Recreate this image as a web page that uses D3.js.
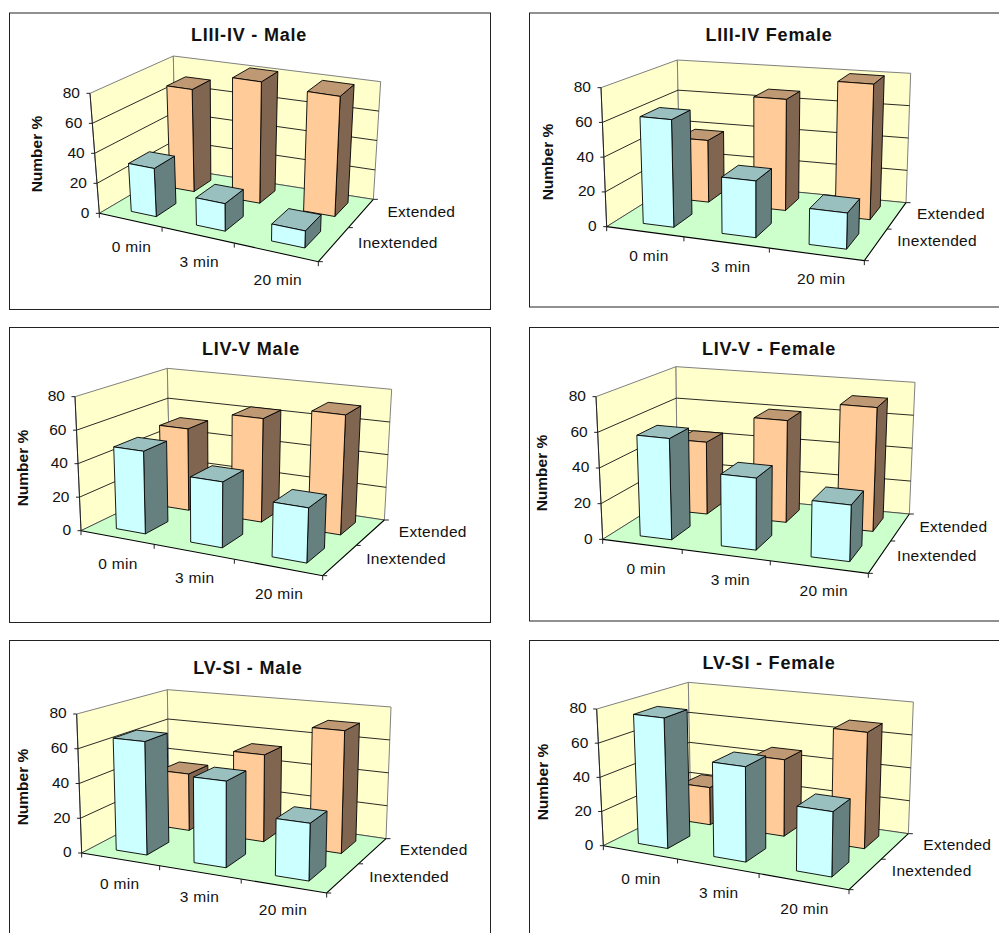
<!DOCTYPE html>
<html><head><meta charset="utf-8"><script src="https://cdnjs.cloudflare.com/ajax/libs/d3/7.8.5/d3.min.js"></script>
<style>html,body{margin:0;padding:0;background:#fff;overflow:hidden}svg{display:block}text{font-family:"Liberation Sans",Arial,sans-serif;fill:#111}</style></head><body><svg id="c" width="999" height="933"></svg>
<script>
const categories = ["0 min", "3 min", "20 min"];
const seriesNames = ["Extended", "Inextended"];
const yTicks = [0, 20, 40, 60, 80];
const titles = ["LIII-IV - Male", "LIII-IV Female", "LIV-V Male", "LIV-V - Female", "LV-SI - Male", "LV-SI - Female"];

const extendedValues = [
  [70, 82, 80],
  [38, 67, 80],
  [51, 63, 71],
  [43, 60, 72],
  [35, 52, 71],
  [23, 46, 68]
];
const inextendedValues = [
  [32, 18, 11],
  [62, 32, 20],
  [49, 38, 31],
  [57, 40, 31],
  [65, 48, 31],
  [76, 54, 36]
];

// Panel geometry, taken in 3x crop coordinates (crop origin ox,oy)
const layouts = [
  {ox:0,  oy:0,  frame:[9.5,13,481,296.5],   FLb:[298,640],FLt:[270,280],BLb:[527,505],BLt:[520,168],BRb:[1120,598],BRt:[1142,245],FRb:[955,785],title:[249,35],yTitle:[37,154],uShift:0.018,catOff:[-1.5,26.3],depthOff:[[26,-1],[24,-1]]},
  {ox:520,oy:0,  frame:[529.5,13,480,294],   FLb:[260,680],FLt:[243,263],BLb:[480,542],BLt:[472,180],BRb:[1158,608],BRt:[1172,220],FRb:[1033,782],title:[769,35],yTitle:[548,162],uShift:0.018,catOff:[0.5,23.5],depthOff:[[20,-2],[21,-4]]},
  {ox:0,  oy:320,frame:[9.5,327.5,481,295],  FLb:[243,632],FLt:[225,230],BLb:[510,503],BLt:[502,145],BRb:[1153,600],BRt:[1175,208],FRb:[968,767],title:[251,349],yTitle:[23,468],uShift:0.008,catOff:[-0.5,25.5],depthOff:[[28,-1],[26,-1]]},
  {ox:520,oy:320,frame:[529.5,327.5,480,293.5],FLb:[248,658],FLt:[228,230],BLb:[472,517],BLt:[468,140],BRb:[1168,582],BRt:[1185,187],FRb:[1045,760],title:[769,349],yTitle:[542,473],uShift:0.018,catOff:[0.5,23.5],depthOff:[[19,0],[17,-1]]},
  {ox:0,  oy:633,frame:[9.5,640.5,481,320],  FLb:[245,660],FLt:[230,243],BLb:[508,522],BLt:[502,170],BRb:[1158,617],BRt:[1173,222],FRb:[980,780],title:[248,668],yTitle:[23,787],uShift:-0.002,catOff:[0,24],depthOff:[[27,-1],[26,-1]]},
  {ox:520,oy:633,frame:[529.5,640.5,480,320],FLb:[250,638],FLt:[230,228],BLb:[512,508],BLt:[505,148],BRb:[1165,602],BRt:[1180,207],FRb:[987,770],title:[769,663],yTitle:[543,782],uShift:0.006,catOff:[0,26.5],depthOff:[[28,-1],[26,-3]]}
];

const palette = {
  Extended:   {front:"#FFCC99", side:"#806650", top:"#BF9973"},
  Inextended: {front:"#CCFFFF", side:"#668080", top:"#99BFBF"}
};

// homography from the unit square: (0,0)=a (1,0)=b (1,1)=c (0,1)=d
function homography(a,b,c,d){
  const dx1=b[0]-c[0],dx2=d[0]-c[0],sx=a[0]-b[0]+c[0]-d[0];
  const dy1=b[1]-c[1],dy2=d[1]-c[1],sy=a[1]-b[1]+c[1]-d[1];
  const den=dx1*dy2-dx2*dy1;
  const g=(sx*dy2-dx2*sy)/den,h=(dx1*sy-sx*dy1)/den;
  const A=b[0]-a[0]+g*b[0],B=d[0]-a[0]+h*d[0],D=b[1]-a[1]+g*b[1],E=d[1]-a[1]+h*d[1];
  return (u,v)=>{const w=g*u+h*v+1;return [(A*u+B*v+a[0])/w,(D*u+E*v+a[1])/w];};
}

const svg=d3.select("#c");
svg.append("rect").attr("width",999).attr("height",933).attr("fill","#fff");
const lineGen=d3.line();
const poly=(pts)=>lineGen(pts)+"Z";

const vScale=d3.scaleBand().domain(["Inextended","Extended"]).range([0,1]).paddingInner(0.5).paddingOuter(0.25);
const hScale=d3.scaleLinear().domain([0,80]).range([0,1]);

layouts.forEach((L,idx)=>{
  const uScale=d3.scaleBand().domain(categories).range([L.uShift,1+L.uShift]).paddingInner(0.6).paddingOuter(0.3);
  const g=svg.append("g");
  const c=p=>[L.ox+p[0]/3,L.oy+p[1]/3];
  const FLb=c(L.FLb),FLt=c(L.FLt),BLb=c(L.BLb),BLt=c(L.BLt),BRb=c(L.BRb),BRt=c(L.BRt),FRb=c(L.FRb);
  const sub=(a,b)=>[a[0]-b[0],a[1]-b[1]];
  const hFL=sub(FLt,FLb),hBL=sub(BLt,BLb),hBR=sub(BRt,BRb);
  const fy=hFL[1]+hBR[1]-hBL[1];
  const sL=hFL[0]/hFL[1],sR=hBR[0]/hBR[1];
  const sF=sL+(sR-sL)*(FRb[0]-FLb[0])/(BRb[0]-FLb[0]);
  const hFR=[sF*fy,fy];
  const floor=homography(FLb,FRb,BRb,BLb);
  const P=(u,v,val)=>{
    const t=hScale(val),a=floor(u,v);
    const hx=(1-u)*(1-v)*hFL[0]+u*(1-v)*hFR[0]+u*v*hBR[0]+(1-u)*v*hBL[0];
    const hy=(1-u)*(1-v)*hFL[1]+u*(1-v)*hFR[1]+u*v*hBR[1]+(1-u)*v*hBL[1];
    return [a[0]+hx*t,a[1]+hy*t];
  };

  g.append("rect").attr("x",L.frame[0]).attr("y",L.frame[1]).attr("width",L.frame[2]).attr("height",L.frame[3])
    .attr("fill","#fff").attr("stroke","#222").attr("stroke-width",1);

  g.append("path").attr("d",poly([P(0,0,0),P(0,1,0),P(0,1,80),P(0,0,80)])).attr("fill","#FFFFCC").attr("stroke","#808080");
  g.append("path").attr("d",poly([P(0,1,0),P(1,1,0),P(1,1,80),P(0,1,80)])).attr("fill","#FFFFCC").attr("stroke","#808080");
  g.append("path").attr("d",poly([P(0,0,0),P(1,0,0),P(1,1,0),P(0,1,0)])).attr("fill","#CCFFCC").attr("stroke","none");

  // gridlines across both walls
  yTicks.slice(1,-1).forEach(t=>{
    g.append("path").attr("fill","none").attr("stroke","#111").attr("stroke-width",0.9)
      .attr("d",lineGen([P(0,0,t),P(0,1,t),P(1,1,t)]));
  });
  // floor edges
  g.append("path").attr("fill","none").attr("stroke","#333").attr("stroke-width",0.8).attr("d",lineGen([P(0,0,0),P(0,1,0),P(1,1,0)]));
  g.append("path").attr("fill","none").attr("stroke","#000").attr("stroke-width",1.1).attr("d",lineGen([P(0,0,0),P(1,0,0),P(1,1,0)]));
  g.append("path").attr("fill","none").attr("stroke","#222").attr("stroke-width",1).attr("d",lineGen([P(0,0,0),P(0,0,80)]));

  // bars, back row first
  const rows=[["Extended",extendedValues[idx]],["Inextended",inextendedValues[idx]]];
  rows.forEach(([name,vals])=>{
    const col=palette[name];
    categories.forEach((cat,i)=>{
      const u0=uScale(cat),u1=u0+uScale.bandwidth(),v0=vScale(name),v1=v0+vScale.bandwidth(),h=vals[i];
      const faces=[
        [col.side,[P(u1,v0,0),P(u1,v1,0),P(u1,v1,h),P(u1,v0,h)]],
        [col.top,[P(u0,v0,h),P(u1,v0,h),P(u1,v1,h),P(u0,v1,h)]],
        [col.front,[P(u0,v0,0),P(u1,v0,0),P(u1,v0,h),P(u0,v0,h)]]
      ];
      g.selectAll(null).data(faces).join("path").attr("d",d=>poly(d[1])).attr("fill",d=>d[0])
        .attr("stroke","#000").attr("stroke-width",0.9).attr("stroke-linejoin","round");
    });
  });

  // ticks and labels
  yTicks.forEach(t=>{
    const p=P(0,0,t);
    g.append("line").attr("x1",p[0]).attr("y1",p[1]).attr("x2",p[0]-3.5).attr("y2",p[1]).attr("stroke","#222");
    g.append("text").attr("x",p[0]-10).attr("y",p[1]-1).attr("dy","0.35em").attr("text-anchor","end").attr("font-size",15.5).text(t);
  });
  const uTicks=[0,1,2,3].map(i=>i/3), vTicks=[0,0.5,1];
  uTicks.forEach(u=>{const p=P(u,0,0);g.append("line").attr("x1",p[0]).attr("y1",p[1]).attr("x2",p[0]).attr("y2",p[1]+4.5).attr("stroke","#222");});
  vTicks.forEach(v=>{const p=P(1,v,0);g.append("line").attr("x1",p[0]).attr("y1",p[1]).attr("x2",p[0]+4.5).attr("y2",p[1]).attr("stroke","#222");});
  categories.forEach(cat=>{
    const p=P(uScale(cat)+uScale.bandwidth()/2,0,0);
    g.append("text").attr("x",p[0]+L.catOff[0]).attr("y",p[1]+L.catOff[1]).attr("dy","0.35em").attr("text-anchor","middle")
      .attr("font-size",15.5).attr("letter-spacing",0.3).text(cat);
  });
  seriesNames.forEach((s,i)=>{
    const p=P(1,vScale(s)+vScale.bandwidth()/2,0);
    g.append("text").attr("x",p[0]+L.depthOff[i][0]).attr("y",p[1]+L.depthOff[i][1]).attr("dy","0.35em").attr("text-anchor","start")
      .attr("font-size",15.5).attr("letter-spacing",0.3).text(s);
  });
  g.append("text").attr("x",L.title[0]).attr("y",L.title[1]).attr("dy","0.35em").attr("text-anchor","middle")
    .attr("font-size",18).attr("letter-spacing",0.8).attr("font-weight","bold").text(titles[idx]);
  g.append("text").attr("transform",`translate(${L.yTitle[0]},${L.yTitle[1]}) rotate(-90)`).attr("dy","0.35em")
    .attr("text-anchor","middle").attr("font-size",15.5).attr("font-weight","bold").text("Number %");
});
</script></body></html>
